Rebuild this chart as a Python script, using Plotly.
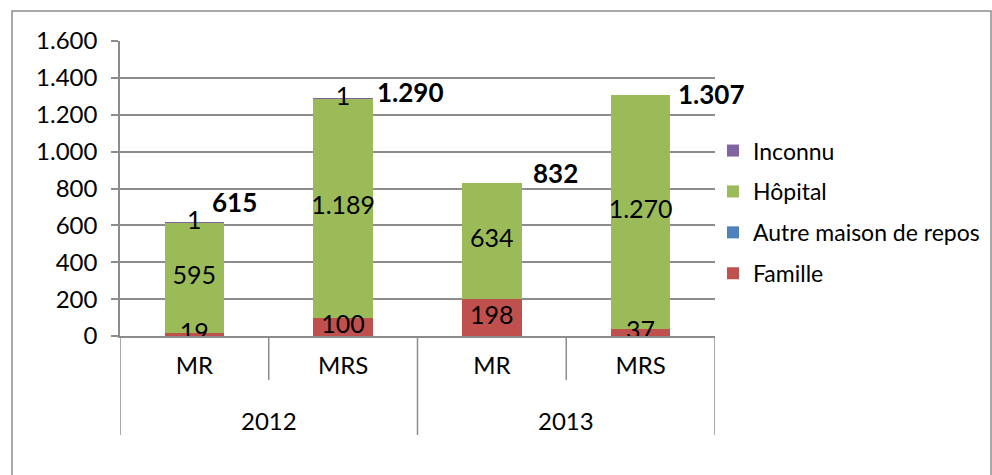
import plotly.graph_objects as go

years = ["2012", "2013"]
types = ["MR", "MRS", "MR", "MRS"]

famille = [19, 100, 198, 37]
autre = [0, 0, 0, 0]
hopital = [595, 1189, 634, 1270]
inconnu = [1, 1, 0, 0]
totals = [615, 1290, 832, 1307]

famille_lbl = ["19", "100", "198", "37"]
hopital_lbl = ["595", "1.189", "634", "1.270"]
inconnu_lbl = ["1", "1", "", ""]

# label nudges for the bold totals (pixels)
tot_xshift = [18, 34, 41, 37]
tot_yshift = [21, 6, 10, 1]

FONT = "Lato"
FS = 24
GRID = "#8c8c8c"


def fmt(v):
    return f"{v:,}".replace(",", ".")


def main():
    pos = list(range(len(types)))
    fig = go.Figure()

    series = [
        ("Famille", famille, "#C0504D"),
        ("Autre maison de repos", autre, "#4F81BD"),
        ("Hôpital", hopital, "#9BBB59"),
        ("Inconnu", inconnu, "#8064A2"),
    ]
    for i, (name, vals, col) in enumerate(series):
        fig.add_trace(go.Bar(x=pos, y=vals, name=name, marker_color=col,
                             marker_line_width=0, legendgroup=name,
                             legendrank=len(series) - i))

    # segment labels, centred on each segment
    base = [0] * len(types)
    mids = {}
    for name, vals, col in series:
        mids[name] = [b + v / 2 for b, v in zip(base, vals)]
        base = [b + v for b, v in zip(base, vals)]

    for name, lbl in [("Famille", famille_lbl), ("Hôpital", hopital_lbl),
                      ("Inconnu", inconnu_lbl)]:
        fig.add_trace(go.Scatter(x=pos, y=mids[name], mode="text", text=lbl,
                                 textfont=dict(family=FONT, size=25, color="black"),
                                 showlegend=False, hoverinfo="skip"))

    for i, t in enumerate(totals):
        fig.add_annotation(x=pos[i], y=t, text="<b>" + fmt(t) + "</b>", showarrow=False,
                           xanchor="left", yanchor="middle", xshift=tot_xshift[i] - 2,
                           yshift=tot_yshift[i],
                           font=dict(family=FONT, size=26, color="black"))

    # year labels of the second axis level
    for j, y in enumerate(years):
        fig.add_annotation(x=2 * j + 0.5, y=-84 / 295, xref="x", yref="paper",
                           text=y, showarrow=False, yanchor="middle",
                           font=dict(family=FONT, size=FS, color="black"))

    shapes = [dict(type="rect", xref="paper", yref="paper",
                   x0=-108 / 595, x1=871 / 595, y0=-160 / 295, y1=325 / 295,
                   line=dict(color=GRID, width=1.5), layer="below")]
    for b in [-0.5, 0.5, 1.5, 2.5, 3.5]:
        low = -99 / 295 if b in (-0.5, 1.5, 3.5) else -44 / 295
        shapes.append(dict(type="line", xref="x", yref="paper", x0=b, x1=b,
                           y0=0, y1=low, line=dict(color=GRID, width=1.5)))

    fig.update_layout(
        width=992, height=475,
        margin=dict(l=120, r=277, t=41, b=139, autoexpand=False),
        barmode="stack", bargap=0.6,
        plot_bgcolor="white", paper_bgcolor="white",
        separators=",.",
        font=dict(family=FONT, size=FS, color="black"),
        legend=dict(x=1 - 2 / 595, y=0.42, xanchor="left", yanchor="middle",
                    traceorder="grouped", tracegroupgap=8,
                    bgcolor="rgba(0,0,0,0)",
                    font=dict(family=FONT, size=23)),
        shapes=shapes,
    )
    fig.update_yaxes(range=[0, 1600], dtick=200, tickformat=",.0f",
                     showgrid=True, gridcolor=GRID, gridwidth=1.5,
                     showline=True, linecolor=GRID, linewidth=1.5,
                     ticks="outside", ticklen=7, tickcolor=GRID, tickwidth=1.5,
                     ticklabelstandoff=9, zeroline=False)
    fig.update_xaxes(range=[-0.5, 3.5], tickvals=pos, ticktext=types,
                     showline=True, linecolor=GRID, linewidth=1.5,
                     ticks="", ticklabelstandoff=7, showgrid=False,
                     zeroline=False)

    fig.write_html("out.html", config={"displayModeBar": False},
                   post_script="document.body.style.margin='0px';")


if __name__ == "__main__":
    main()
